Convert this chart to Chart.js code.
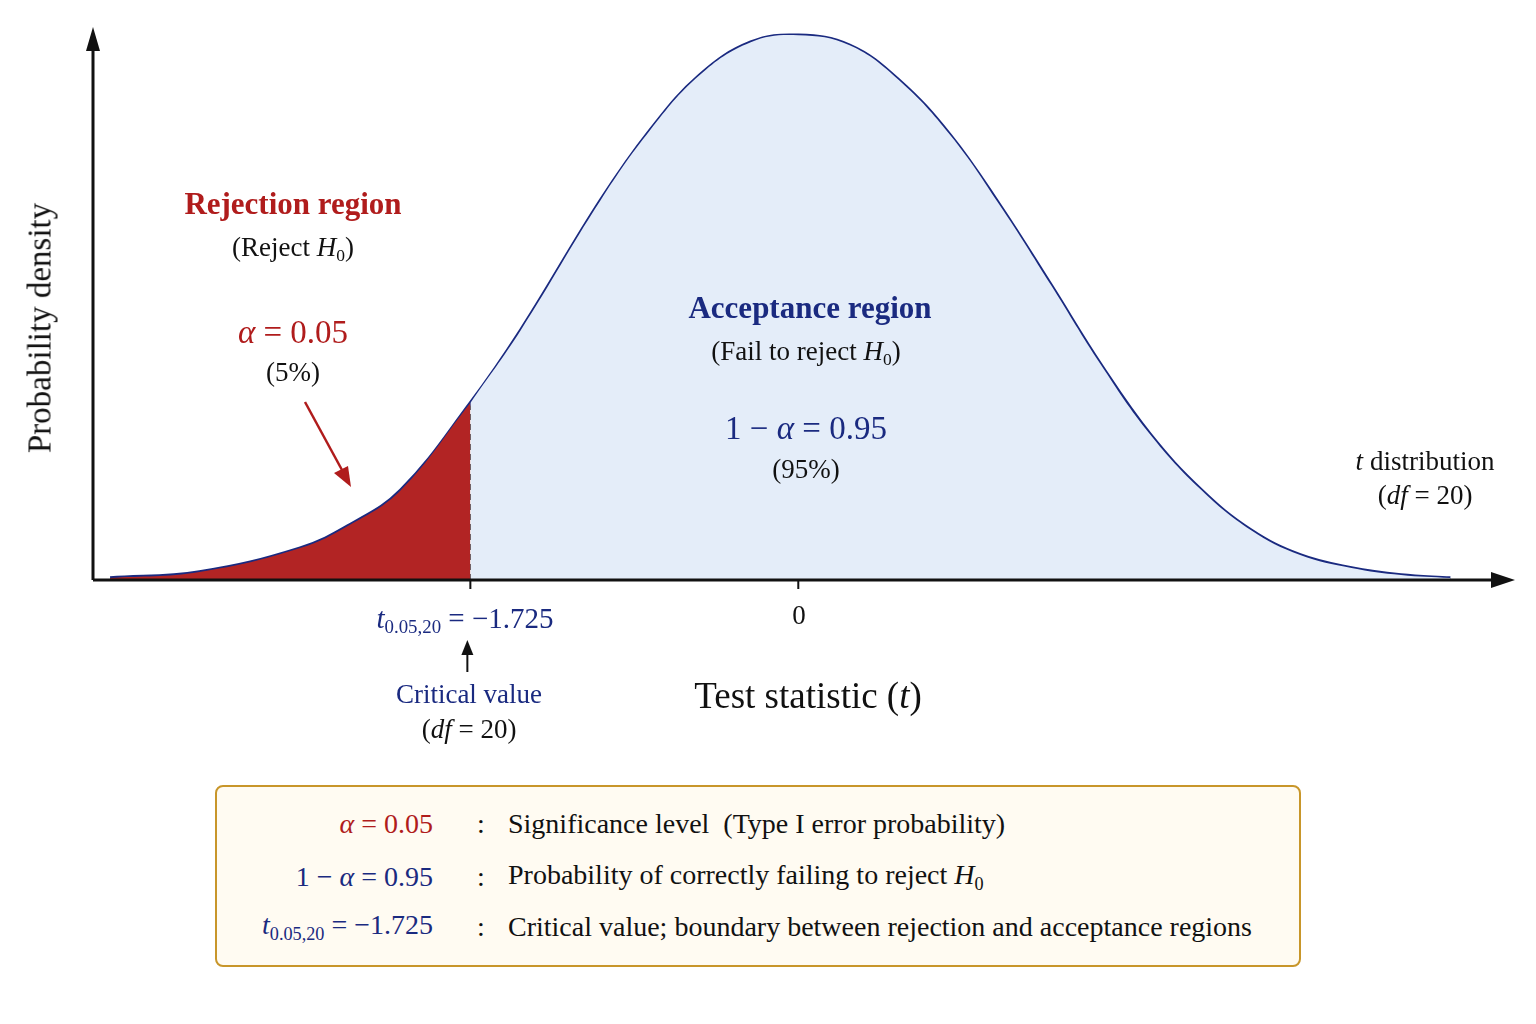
<!DOCTYPE html>
<html><head><meta charset="utf-8">
<script src="https://cdn.jsdelivr.net/npm/chart.js@4"></script>
<style>
html,body{margin:0;padding:0;background:#fff;}
#wrap{position:relative;width:1536px;height:1024px;font-family:"Liberation Serif","DejaVu Serif",serif;color:#111;}
canvas{position:absolute;left:0;top:0;}
.t{position:absolute;transform:translate(-50%,-50%);white-space:nowrap;font-size:27px;}
.red{color:#b01c1c}.navy{color:#1a2a80}
sub{font-size:0.65em;vertical-align:-0.3em}
#box{position:absolute;left:215px;top:785px;width:1086px;height:182px;border:2px solid #c8962a;border-radius:8px;background:#fffbf2;box-sizing:border-box;}
.row{position:absolute;font-size:28px;white-space:nowrap;transform:translateY(-50%);}
</style></head><body>
<div id="wrap">
<canvas id="c" width="1536" height="1024"></canvas>
<div class="t red" style="left:293px;top:204px;font-size:31px;font-weight:bold">Rejection region</div>
<div class="t" style="left:293px;top:249px">(Reject <i>H</i><sub>0</sub>)</div>
<div class="t red" style="left:293px;top:332px;font-size:33px"><i>α</i> = 0.05</div>
<div class="t" style="left:293px;top:372px">(5%)</div>
<div class="t navy" style="left:810px;top:308px;font-size:31px;font-weight:bold">Acceptance region</div>
<div class="t" style="left:806px;top:353px">(Fail to reject <i>H</i><sub>0</sub>)</div>
<div class="t navy" style="left:806px;top:428px;font-size:33px">1 − <i>α</i> = 0.95</div>
<div class="t" style="left:806px;top:469px">(95%)</div>
<div class="t" style="left:1425px;top:461px"><i>t</i> distribution</div>
<div class="t" style="left:1425px;top:495px">(<i>df</i> = 20)</div>
<div class="t navy" style="left:465px;top:620px;font-size:29px"><i>t</i><sub>0.05,20</sub> = −1.725</div>
<div class="t" style="left:799px;top:615px">0</div>
<div class="t navy" style="left:469px;top:694px">Critical value</div>
<div class="t" style="left:469px;top:729px">(<i>df</i> = 20)</div>
<div class="t" style="left:808px;top:695px;font-size:37px">Test statistic (<i>t</i>)</div>
<div class="t" style="left:40px;top:328px;font-size:33px;transform:translate(-50%,-50%) rotate(-90deg)">Probability density</div>
<div id="box">
 <div class="row red" style="right:866px;top:37px"><i>α</i> = 0.05</div>
 <div class="row navy" style="right:866px;top:90px">1 − <i>α</i> = 0.95</div>
 <div class="row navy" style="right:866px;top:140px"><i>t</i><sub>0.05,20</sub> = −1.725</div>
 <div class="row" style="left:260px;top:37px">:</div>
 <div class="row" style="left:260px;top:90px">:</div>
 <div class="row" style="left:260px;top:140px">:</div>
 <div class="row" style="left:291px;top:37px">Significance level&nbsp; (Type I error probability)</div>
 <div class="row" style="left:291px;top:90px">Probability of correctly failing to reject <i>H</i><sub>0</sub></div>
 <div class="row" style="left:291px;top:140px">Critical value; boundary between rejection and acceptance regions</div>
</div>
</div>
<script>
const tValues=[-3.62,-3.15,-2.62,-2.36,-2.09,-1.725,-1.46,-1.04,-0.78,-0.52,-0.25,0,0.27,0.53,0.80,1.06,1.33,1.59,1.85,2.12,2.38,2.64,2.91,3.17,3.43];
const density=[0.0014,0.0058,0.0231,0.0398,0.0651,0.1280,0.1807,0.2747,0.3253,0.3651,0.3890,0.3940,0.3868,0.3615,0.3217,0.2711,0.2132,0.1561,0.1055,0.0651,0.0362,0.0181,0.0087,0.0036,0.0014];
const criticalT=-1.725;
const pts=tValues.map((t,i)=>({x:t,y:density[i]}));
const critY=density[tValues.indexOf(criticalT)];
const rejPts=pts.filter(p=>p.x<=criticalT);
const accPts=pts.filter(p=>p.x>=criticalT);
const axesPlugin={id:'axes',afterDatasetsDraw(ch){
 const c=ch.ctx,xs=ch.scales.x,ys=ch.scales.y;
 const x0=xs.left,y0=ys.getPixelForValue(0);
 c.save();c.strokeStyle='#111';c.fillStyle='#111';c.lineWidth=3;
 c.beginPath();c.moveTo(x0,y0);c.lineTo(xs.right-10,y0);c.moveTo(x0,y0);c.lineTo(x0,ys.top+10);c.stroke();
 c.beginPath();c.moveTo(xs.right,y0);c.lineTo(xs.right-24,y0-8);c.lineTo(xs.right-24,y0+8);c.fill();
 c.beginPath();c.moveTo(x0,ys.top);c.lineTo(x0-7,ys.top+24);c.lineTo(x0+7,ys.top+24);c.fill();
 c.lineWidth=2;
 const z=xs.getPixelForValue(0),cr=xs.getPixelForValue(criticalT);
 c.beginPath();c.moveTo(z,y0);c.lineTo(z,y0+9);c.moveTo(cr,y0);c.lineTo(cr,y0+9);c.stroke();
 c.beginPath();c.moveTo(cr-3,672);c.lineTo(cr-3,650);c.stroke();
 c.beginPath();c.moveTo(cr-3,640);c.lineTo(cr-9,655);c.lineTo(cr+3,655);c.fill();
 c.strokeStyle='#b01c1c';c.fillStyle='#b01c1c';c.lineWidth=2.5;
 c.beginPath();c.moveTo(305,402);c.lineTo(342,470);c.stroke();
 c.beginPath();c.moveTo(351,487);c.lineTo(334,473);c.lineTo(348,466);c.fill();
 c.restore();}};
new Chart(document.getElementById('c'),{type:'scatter',
 data:{datasets:[
  {data:rejPts,showLine:true,fill:'origin',backgroundColor:'#b22424',borderWidth:0,pointRadius:0,tension:0.4},
  {data:accPts,showLine:true,fill:'origin',backgroundColor:'#e4edf9',borderWidth:0,pointRadius:0,tension:0.4},
  {data:pts,showLine:true,borderColor:'#1a2a80',borderWidth:3.5,pointRadius:0,tension:0.4},
  {data:[{x:criticalT,y:0},{x:criticalT,y:critY}],showLine:true,borderColor:'#111',borderWidth:3,borderDash:[6,4],pointRadius:0}
 ]},
 options:{responsive:false,animation:false,events:[],
  layout:{padding:{left:93,right:21,top:27,bottom:444}},
  plugins:{legend:{display:false},tooltip:{enabled:false}},
  scales:{x:{type:'linear',min:-3.71,max:3.77,display:false},y:{min:0,max:0.40,display:false}}},
 plugins:[axesPlugin]});
</script>
</body></html>
